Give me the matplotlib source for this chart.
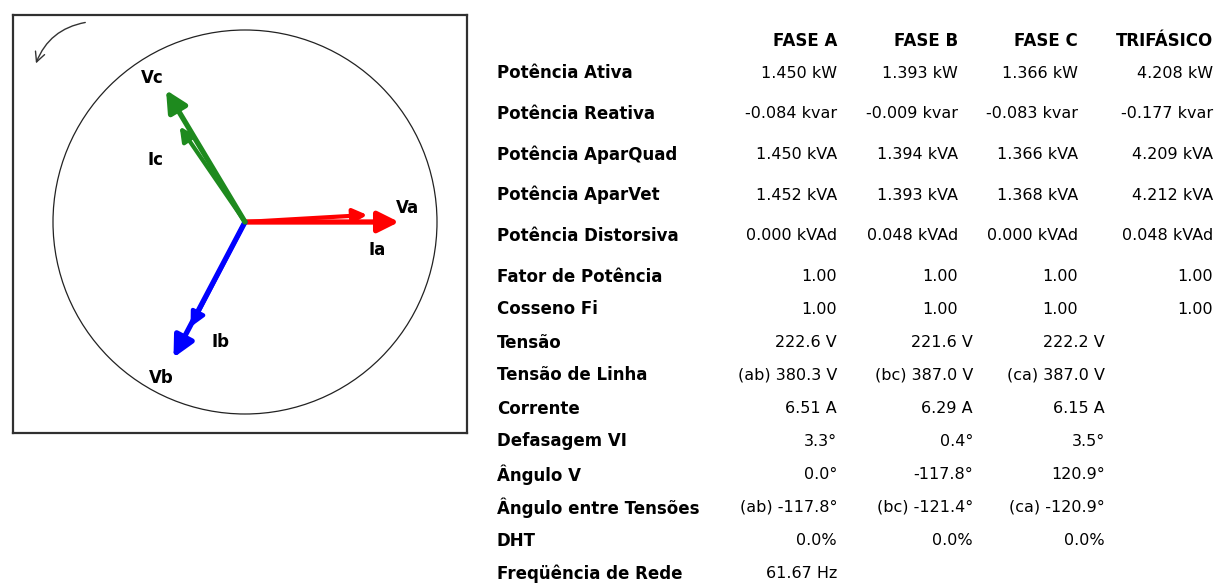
import numpy as np
import matplotlib
matplotlib.use("Agg")
import matplotlib.pyplot as plt
from matplotlib.patches import Circle, FancyArrowPatch

# ---------------- data ----------------
phases = ["a", "b", "c"]
v_mag = [222.6, 221.6, 222.2]          # V
v_ang = [0.0, -117.8, 120.9]           # deg
i_mag = [6.51, 6.29, 6.15]             # A
i_shift = [3.3, 0.4, 3.5]              # deg (Defasagem VI)
phase_colors = ["#ff0000", "#0000ff", "#1e8a1e"]

headers = ["FASE A", "FASE B", "FASE C", "TRIFÁSICO"]
row_labels = [
    "Potência Ativa", "Potência Reativa", "Potência AparQuad", "Potência AparVet",
    "Potência Distorsiva", "Fator de Potência", "Cosseno Fi", "Tensão",
    "Tensão de Linha", "Corrente", "Defasagem VI", "Ângulo V",
    "Ângulo entre Tensões", "DHT", "Freqüência de Rede",
]
fase_a = ["1.450 kW", "-0.084 kvar", "1.450 kVA", "1.452 kVA", "0.000 kVAd", "1.00", "1.00",
          "222.6 V", "(ab) 380.3 V", "6.51 A", "3.3°", "0.0°", "(ab) -117.8°", "0.0%", "61.67 Hz"]
fase_b = ["1.393 kW", "-0.009 kvar", "1.394 kVA", "1.393 kVA", "0.048 kVAd", "1.00", "1.00",
          "221.6 V", "(bc) 387.0 V", "6.29 A", "0.4°", "-117.8°", "(bc) -121.4°", "0.0%", ""]
fase_c = ["1.366 kW", "-0.083 kvar", "1.366 kVA", "1.368 kVA", "0.000 kVAd", "1.00", "1.00",
          "222.2 V", "(ca) 387.0 V", "6.15 A", "3.5°", "120.9°", "(ca) -120.9°", "0.0%", ""]
trifasico = ["4.208 kW", "-0.177 kvar", "4.209 kVA", "4.212 kVA", "0.048 kVAd", "1.00", "1.00",
             "", "", "", "", "", "", "", ""]

# ---------------- layout ----------------
W, H = 1218, 583
fig = plt.figure(figsize=(W / 100, H / 100), dpi=100)
fig.patch.set_facecolor("white")

main = fig.add_axes([0, 0, 1, 1])
main.set_xlim(0, W)
main.set_ylim(H, 0)
main.axis("off")

label_font = dict(family="DejaVu Sans", weight="bold", size=12)
value_font = dict(family="DejaVu Sans", size=11.5)

row_y = [73 + 40.7 * i for i in range(6)] + [73 + 40.7 * 5 + 33 * (i + 1) for i in range(9)]
header_y = 41
col_right_upper = [837, 958, 1078, 1213]
col_right_lower = [837, 973, 1105, 1213]
label_x = 497

for x, h in zip(col_right_upper, headers):
    main.text(x, header_y, h, ha="right", va="center", **label_font)

columns = [fase_a, fase_b, fase_c, trifasico]
for r, (lab, y) in enumerate(zip(row_labels, row_y)):
    main.text(label_x, y, lab, ha="left", va="center", **label_font)
    rights = col_right_upper if r < 7 else col_right_lower
    for c, col in enumerate(columns):
        if col[r]:
            main.text(rights[c], y, col[r], ha="right", va="center", **value_font)

# rotation indicator arrow (top-left)
rot = FancyArrowPatch((88, 22), (35, 66), connectionstyle="arc3,rad=0.3",
                      arrowstyle="->,head_length=7,head_width=3.5", lw=1.0, color="#333333",
                      zorder=5)
main.add_patch(rot)

# ---------------- phasor diagram ----------------
box_l, box_t, box_r, box_b = 13, 15, 467, 433
cx, cy, R = 245, 222, 192
ph = fig.add_axes([box_l / W, 1 - box_b / H, (box_r - box_l) / W, (box_b - box_t) / H])
ph.patch.set_alpha(0)
ph.set_xlim((box_l - cx) / R, (box_r - cx) / R)
ph.set_ylim((cy - box_b) / R, (cy - box_t) / R)
ph.set_xticks([])
ph.set_yticks([])
for s in ph.spines.values():
    s.set_color("#303030")
    s.set_linewidth(1.6)

ph.add_patch(Circle((0, 0), 1.0, fill=False, lw=0.9, color="#222222"))

V_SCALE = 0.80 / 222.0
I_SCALE = 0.098

for k in range(3):
    col = phase_colors[k]
    a = np.deg2rad(v_ang[k])
    vx, vy = v_mag[k] * V_SCALE * np.cos(a), v_mag[k] * V_SCALE * np.sin(a)
    ph.annotate("", xy=(vx, vy), xytext=(0, 0),
                arrowprops=dict(arrowstyle="-|>,head_length=0.9,head_width=0.45",
                                lw=3.8, color=col, shrinkA=0, shrinkB=0,
                                mutation_scale=14))
    ai = np.deg2rad(v_ang[k] + i_shift[k])
    ix, iy = i_mag[k] * I_SCALE * np.cos(ai), i_mag[k] * I_SCALE * np.sin(ai)
    ph.annotate("", xy=(ix, iy), xytext=(0, 0),
                arrowprops=dict(arrowstyle="-|>,head_length=0.7,head_width=0.35",
                                lw=3.0, color=col, shrinkA=0, shrinkB=0,
                                mutation_scale=12))
    ph.plot([0.55 * ix, 0.85 * ix], [0.55 * iy, 0.85 * iy], color="white", lw=0.8,
            solid_capstyle="butt")

# labels (layout positions in circle units)
lab_font = dict(family="DejaVu Sans", weight="bold", size=12)
v_label_pos = [(0.845, 0.073), (-0.4375, -0.8125), (-0.484, 0.75)]
i_label_pos = [(0.6875, -0.146), (-0.13, -0.625), (-0.464, 0.323)]
for k, p in enumerate(phases):
    ph.text(*v_label_pos[k], "V" + p, ha="center", va="center", **lab_font)
    ph.text(*i_label_pos[k], "I" + p, ha="center", va="center", **lab_font)

fig.savefig("out.png", dpi=100, facecolor="white")
